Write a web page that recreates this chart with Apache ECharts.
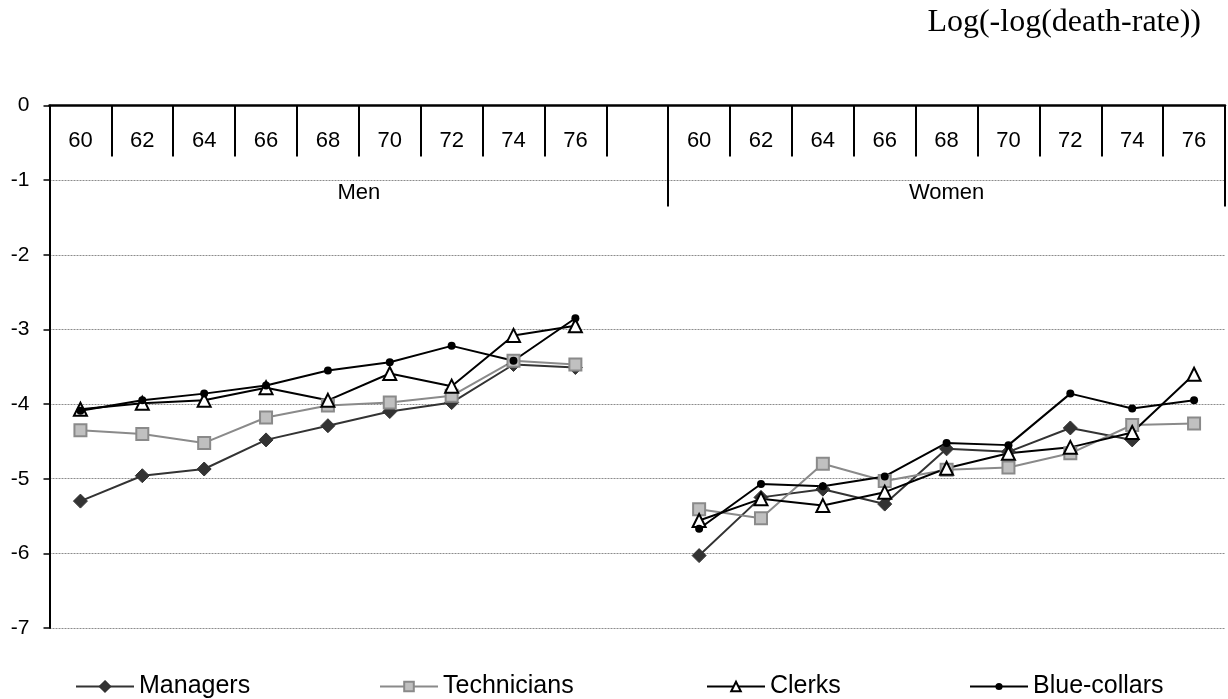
<!DOCTYPE html>
<html>
<head>
<meta charset="utf-8">
<script src="https://cdn.jsdelivr.net/npm/echarts@6/dist/echarts.min.js"></script>
<style>
html,body{margin:0;padding:0;background:#fff;}
#chart{width:1228px;height:699px;}
</style>
</head>
<body>
<div id="chart"></div>
<script>
// ---- data ----
const menYears = ['60','62','64','66','68','70','72','74','76',''];
const womenYears = ['60','62','64','66','68','70','72','74','76'];
const groups = ['Men','Women'];
const seriesNames = ['Managers','Technicians','Clerks','Blue-collars'];

const menManagers    = [-5.30,-4.96,-4.87,-4.48,-4.29,-4.10,-3.98,-3.47,-3.51, null];
const menTechnicians = [-4.35,-4.40,-4.52,-4.18,-4.02,-3.98,-3.89,-3.42,-3.47, null];
const menClerks      = [-4.07,-3.99,-3.95,-3.78,-3.95,-3.59,-3.76,-3.08,-2.95, null];
const menBlue        = [-4.09,-3.95,-3.86,-3.75,-3.55,-3.44,-3.22,-3.42,-2.85, null];

const womenManagers    = [-6.03,-5.25,-5.14,-5.34,-4.60,-4.64,-4.32,-4.48, null];
const womenTechnicians = [-5.41,-5.53,-4.80,-5.03,-4.88,-4.85,-4.66,-4.28,-4.26];
const womenClerks      = [-5.56,-5.27,-5.36,-5.18,-4.86,-4.66,-4.58,-4.38,-3.60];
const womenBlue        = [-5.67,-5.07,-5.10,-4.97,-4.52,-4.55,-3.86,-4.06,-3.95];

const yTicks = [0,-1,-2,-3,-4,-5,-6,-7];

// ---- derived ----
const categories = menYears.concat(womenYears);
const groupSizes = [menYears.length, womenYears.length];
// half-slot positions for group axis (boundaryGap false, 2N+1 points)
const halfData = new Array(categories.length * 2 + 1).fill('');
const boundaries = [0];
let acc = 0;
groupSizes.forEach((n, i) => {
  halfData[2 * acc + n] = groups[i];
  acc += n;
  boundaries.push(2 * acc);
});

const FONT = '"Liberation Sans", Arial, sans-serif';

const chart = echarts.init(document.getElementById('chart'));
const seriesStyles = [
  {data: menManagers.concat(womenManagers), symbol: 'diamond', symbolSize: 14,
   line: '#333333', item: {color: '#333333', borderColor: '#333333', borderWidth: 1}},
  {data: menTechnicians.concat(womenTechnicians), symbol: 'rect', symbolSize: 12,
   line: '#8a8a8a', item: {color: '#c0c0c0', borderColor: '#8a8a8a', borderWidth: 2}},
  {data: menClerks.concat(womenClerks), symbol: 'triangle', symbolSize: 13,
   line: '#000000', item: {color: '#ffffff', borderColor: '#000000', borderWidth: 2}},
  {data: menBlue.concat(womenBlue), symbol: 'circle', symbolSize: 8,
   line: '#000000', item: {color: '#000000', borderColor: '#000000', borderWidth: 0}}
];

const legendLefts = [70, 374, 701, 964];
const legendHeights = [13, 12, 12, 9];

chart.setOption({
  animation: false,
  backgroundColor: '#ffffff',
  title: {
    text: 'Log(-log(death-rate))',
    right: 22, top: 2,
    textStyle: {fontFamily: '"Liberation Serif", "Times New Roman", serif', fontSize: 32, fontWeight: 'normal', color: '#000'}
  },
  legend: seriesNames.map((n, i) => ({
    data: [n],
    left: legendLefts[i],
    top: 669,
    itemWidth: 58,
    itemHeight: legendHeights[i],
    itemGap: 0,
    textStyle: {fontFamily: FONT, fontSize: 25, color: '#000'}
  })),
  grid: {left: 49.5, right: 3, top: 105.5, bottom: 71, containLabel: false},
  xAxis: [
    {
      type: 'category', position: 'top', data: categories, boundaryGap: true,
      axisLine: {show: true, onZero: false, lineStyle: {color: '#000', width: 2.5}},
      axisTick: {show: true, inside: true, length: 51, interval: 0, lineStyle: {color: '#000', width: 2}},
      axisLabel: {inside: true, interval: 0, margin: 35, verticalAlign: 'middle',
        fontFamily: FONT, fontSize: 22, color: '#000'},
      splitLine: {show: false}
    },
    {
      type: 'category', position: 'top', data: halfData, boundaryGap: false,
      axisLine: {show: false, onZero: false},
      axisTick: {show: true, inside: true, length: 101,
        interval: (idx) => boundaries.indexOf(idx) >= 0,
        lineStyle: {color: '#000', width: 2}},
      axisLabel: {inside: true, margin: 87, verticalAlign: 'middle',
        interval: (idx, val) => val !== '',
        fontFamily: FONT, fontSize: 22, color: '#000'},
      splitLine: {show: false}
    }
  ],
  yAxis: {
    type: 'value', min: -7, max: 0, interval: 1,
    axisLine: {show: true, lineStyle: {color: '#000', width: 2}},
    axisTick: {show: true, length: 6, lineStyle: {color: '#000', width: 1.5}},
    axisLabel: {margin: 20, fontFamily: FONT, fontSize: 21, color: '#000',
      formatter: (v) => yTicks.indexOf(v) >= 0 ? String(v) : ''},
    splitLine: {show: true, lineStyle: {color: '#8c8c8c', width: 1, type: [2, 1]}}
  },
  series: seriesStyles.map((s, i) => ({
    name: seriesNames[i],
    type: 'line',
    xAxisIndex: 0,
    data: s.data,
    connectNulls: false,
    symbol: s.symbol,
    symbolSize: s.symbolSize,
    showAllSymbol: true,
    lineStyle: {color: s.line, width: 2},
    itemStyle: s.item,
    emphasis: {disabled: true}
  }))
});
</script>
</body>
</html>
